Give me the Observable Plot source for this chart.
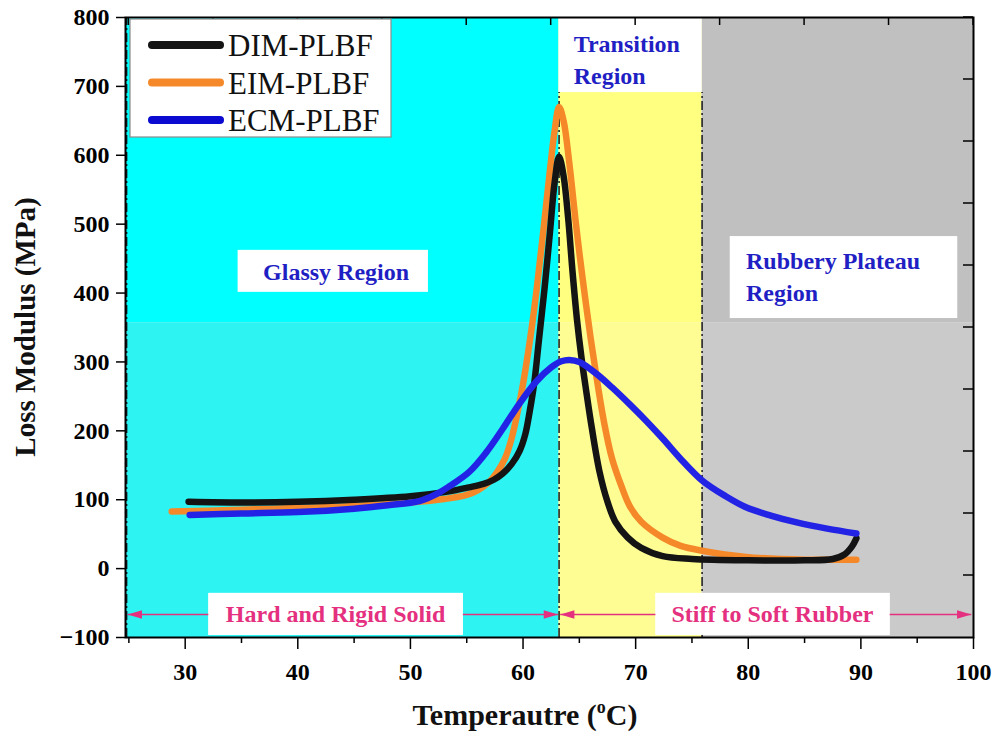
<!DOCTYPE html>
<html><head><meta charset="utf-8">
<script src="https://cdn.jsdelivr.net/npm/d3@7"></script>
<script src="https://cdn.jsdelivr.net/npm/@observablehq/plot@0.6"></script>
<style>
body{margin:0;background:#fff}
#chart{position:relative;width:997px;height:738px}
</style>
</head><body><div id="chart"></div>
<script>
// ---- data ----
const seriesNames = ["DIM-PLBF", "EIM-PLBF", "ECM-PLBF"];
const seriesColors = ["#141414", "#f5892a", "#2323e6"];

const dimTemp = [30.3,35,40,45,50,53,55.2,56.5,57.4,58.2,59,59.7,60.2,60.6,61,61.4,61.9,62.4,62.8,63.2,63.6,64.0,64.4,64.8,65.2,65.6,66.1,66.8,67.5,68.2,69.3,70.5,72.4,75,80,85,87.5,88.5,89.2,89.6];
const dimMod  = [97,96,97,100,105,111,118,123,129,138,152,171,195,229,270,330,405,490,560,598,570,510,430,360,305,259,205,140,97,68,45,30,18,14,12,12,14,20,32,44];

const eimTemp = [28.8,32,38,45,50,53,55,56,57,57.7,58.4,59,59.9,60.6,61.2,61.8,62.4,62.8,63.2,63.6,64.1,64.7,65.3,66,66.6,67.2,67.9,68.8,69.5,70.5,72.4,74,75.9,79.8,85,89.6];
const eimMod  = [83,84,87,91,96,101,107,114,126,140,160,190,259,330,404,490,580,635,670,650,590,500,420,335,270,212,160,117,90,68,45,33,26,17,13,13];

const ecmTemp = [30.4,35,40,45,48,50.8,52.3,53.5,55.2,56.7,58.2,59.7,61.2,62.5,63.4,64.1,65,66.5,67.9,69.5,70.9,72.5,73.9,75.9,78,79.8,82,84.3,87,89.6];
const ecmMod  = [78,80,82,87,92,98,108,120,140,168,203,240,272,292,301,303,300,283,263,238,215,187,161,128,105,89,77,67,58,51];

const xTicks = [30,40,50,60,70,80,90,100];
const xMinorTicks = [25,35,45,55,65,75,85,95];
const yTicks = [-100,0,100,200,300,400,500,600,700,800];
const topTicks = [25,32.5,40,47.5,55,62.5,70,77.5,85,92.5,100];
const rightTicks = [-10,80,170,260,350,440,530,620,710,800];

// regions (temperature bounds) and label annotations
const regionNames = ["Glassy", "Transition", "Rubbery"];
const regionFrom = [24.7, 63.2, 75.9];
const regionTo = [63.2, 75.9, 100];
const regionTopFill = ["#00ffff", "#ffff80", "#c0c0c0"];
const regionLowFill = ["#2ef3f3", "#fdfd94", "#cacaca"];
const shadeSplit = 357;

const boxX1 = [34.7, 63.2, 78.4, 32.1, 71.8];
const boxX2 = [51.6, 75.9, 98.6, 54.7, 92.6];
const boxY1 = [401, 691, 363, -97, -97];
const boxY2 = [462, 800, 482, -36, -36];

const centerLabel = "Glassy Region";
const centerLabelX = 43.4, centerLabelY = 430;
const leftLabels = ["Transition\nRegion", "Rubbery Plateau\nRegion"];
const leftLabelX = [64.5, 79.8];
const leftLabelY = [742, 427];

const stateText = ["Hard and Rigid Solid", "Stiff to Soft Rubber"];
const stateX = [43.35, 82.15];
const stateY = -66.6;
const arrowFrom = [24.9, 63.3];
const arrowTo = [63.1, 99.8];

const dividerX = [24.8, 63.2, 75.9];
const dividerTop = [800, 691, 691];

// ---- build tables ----
const temps = [dimTemp, eimTemp, ecmTemp];
const mods = [dimMod, eimMod, ecmMod];
const series = seriesNames.map((name, i) => ({
  name, color: seriesColors[i],
  points: temps[i].map((t, j) => ({t, e: mods[i][j]}))
}));
const regions = regionNames.map((n, i) => ({n, from: regionFrom[i], to: regionTo[i], top: regionTopFill[i], low: regionLowFill[i]}));
const boxes = boxX1.map((v, i) => ({x1: v, x2: boxX2[i], y1: boxY1[i], y2: boxY2[i]}));
const lLabels = leftLabels.map((s, i) => ({s, x: leftLabelX[i], y: leftLabelY[i]}));
const states = stateText.map((s, i) => ({s, x: stateX[i], y: stateY}));
const spans = arrowFrom.map((v, i) => ({x1: v, x2: arrowTo[i], y: stateY}));
const heads = [
  {x: arrowFrom[0], y: stateY, r: 180}, {x: arrowTo[0], y: stateY, r: 0},
  {x: arrowFrom[1], y: stateY, r: 180}, {x: arrowTo[1], y: stateY, r: 0}
];
const dividers = dividerX.map((x, i) => ({x, top: dividerTop[i]}));

const arrowHead = {
  draw(ctx, size) {
    const l = Math.sqrt(size);
    ctx.moveTo(0, 0);
    ctx.lineTo(-l, -l * 0.3);
    ctx.lineTo(-l, l * 0.3);
    ctx.closePath();
  }
};

const serif = "'Liberation Serif', 'Times New Roman', 'DejaVu Serif', serif";
const magenta = "#e4307f";
const labelBlue = "#1f1fc4";

const plot = Plot.plot({
  width: 997, height: 738,
  marginLeft: 125, marginRight: 24, marginTop: 17, marginBottom: 101,
  x: {domain: [24.7, 100]},
  y: {domain: [-100, 800]},
  style: {fontFamily: serif, fontSize: "24px", fontWeight: "bold", color: "#000", background: "#fff", overflow: "visible"},
  marks: [
    Plot.rect(regions, {x1: "from", x2: "to", y1: shadeSplit, y2: 800, fill: d => d.top}),
    Plot.rect(regions, {x1: "from", x2: "to", y1: -100, y2: shadeSplit, fill: d => d.low}),
    Plot.rect(boxes, {x1: "x1", x2: "x2", y1: "y1", y2: "y2", fill: "white"}),
    Plot.ruleX(dividers, {x: "x", y1: -100, y2: "top", stroke: "#1a1a1a", strokeWidth: 1.5, strokeDasharray: "9,3,2,3"}),
    Plot.link(spans, {x1: "x1", x2: "x2", y1: "y", y2: "y", stroke: magenta, strokeWidth: 1.5}),
    Plot.dot(heads, {x: "x", y: "y", rotate: "r", symbol: arrowHead, r: 8, fill: magenta, stroke: "none"}),
    Plot.rect(boxes.slice(3), {x1: "x1", x2: "x2", y1: "y1", y2: "y2", fill: "white"}),
    ...[1, 0, 2].map(i => Plot.line(series[i].points, {
      x: "t", y: "e", stroke: series[i].color, strokeWidth: 6.5,
      curve: "catmull-rom", strokeLinecap: "round", strokeLinejoin: "round"
    })),
    Plot.text([centerLabel], {x: () => centerLabelX, y: () => centerLabelY, text: d => d, textAnchor: "middle",
      fill: labelBlue, fontSize: 24, fontWeight: "bold", fontFamily: serif}),
    Plot.text(lLabels, {x: "x", y: "y", text: "s", textAnchor: "start", lineAnchor: "middle",
      lineHeight: 1.33, fill: labelBlue, fontSize: 24, fontWeight: "bold", fontFamily: serif}),
    Plot.text(states, {x: "x", y: "y", text: "s", fill: magenta, fontSize: 24, fontWeight: "bold", fontFamily: serif}),
    Plot.axisX({ticks: xTicks, tickSize: 12, tickPadding: 13, label: null, fontSize: 24, strokeWidth: 1.5}),
    Plot.axisX({ticks: xMinorTicks, tickSize: 6, tickFormat: () => "", label: null, strokeWidth: 1.5}),
    Plot.axisY({ticks: yTicks, tickSize: 9, tickPadding: 7, label: null, fontSize: 24, strokeWidth: 1.5}),
    Plot.frame({stroke: "#000", strokeWidth: 2})
  ]
});

const svg = d3.select(plot);
const sx = plot.scale("x"), sy = plot.scale("y");
const X = v => sx.apply(v), Y = v => sy.apply(v);

// inward ticks on top and right
const tg = svg.append("g").attr("stroke", "#000").attr("stroke-width", 1.5);
topTicks.forEach(v => tg.append("line").attr("x1", X(v)).attr("x2", X(v)).attr("y1", Y(800)).attr("y2", Y(800) + 8));
rightTicks.forEach(v => tg.append("line").attr("x1", X(100)).attr("x2", X(100) - 10).attr("y1", Y(v)).attr("y2", Y(v)));

// legend
const lg = svg.append("g");
lg.append("rect").attr("x", 130).attr("y", 19).attr("width", 261).attr("height", 118)
  .attr("fill", "#fff").attr("stroke", "#8a8a8a").attr("stroke-width", 1.2);
series.forEach((s, i) => {
  const yy = 45 + i * 37.5;
  lg.append("line").attr("x1", 152).attr("x2", 220).attr("y1", yy).attr("y2", yy)
    .attr("stroke", i === 2 ? "#0a0ad0" : s.color).attr("stroke-width", 8).attr("stroke-linecap", "round");
  lg.append("text").attr("x", 228).attr("y", yy + 11).attr("text-anchor", "start")
    .attr("font-size", 31).attr("font-weight", "normal")
    .attr("font-family", serif).attr("fill", "#111").text(s.name);
});

// axis titles
svg.append("text")
  .attr("transform", `translate(25,${(Y(800) + Y(-100)) / 2}) rotate(-90)`)
  .attr("text-anchor", "middle").attr("dominant-baseline", "central")
  .attr("font-size", 29).attr("font-weight", "bold").attr("font-family", serif).attr("fill", "#111")
  .text("Loss Modulus (MPa)");
const xt = svg.append("text").attr("x", 525).attr("y", 725).attr("text-anchor", "middle")
  .attr("font-size", 30).attr("font-weight", "bold").attr("font-family", serif).attr("fill", "#111");
xt.append("tspan").text("Temperautre (");
xt.append("tspan").attr("dy", -12).attr("font-size", 18).text("o");
xt.append("tspan").attr("dy", 12).text("C)");

document.getElementById("chart").appendChild(plot);
</script>
</body></html>
